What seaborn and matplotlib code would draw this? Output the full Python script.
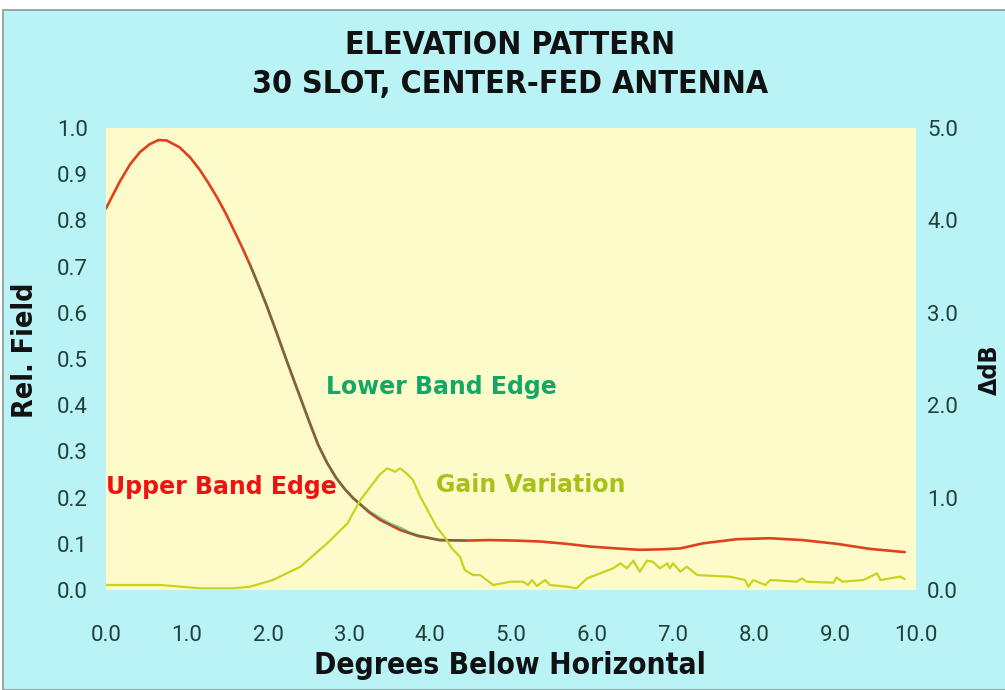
import numpy as np
import matplotlib
matplotlib.use("Agg")
import matplotlib.pyplot as plt
from matplotlib.patches import Rectangle
import seaborn as sns

# Elevation pattern, relative field (left axis)
upper_x = [0.00, 0.17, 0.30, 0.42, 0.54, 0.65, 0.75, 0.91, 1.04, 1.16, 1.26, 1.37, 1.47,
           1.57, 1.68, 1.78, 1.88, 1.98, 2.09, 2.19, 2.29, 2.40, 2.51, 2.62, 2.73, 2.84,
           2.95, 3.05, 3.25, 3.38, 3.63, 3.85, 4.12, 4.45, 4.74, 5.05, 5.36, 5.68, 5.98,
           6.30, 6.59, 6.85, 7.09, 7.37, 7.79, 8.20, 8.60, 9.02, 9.43, 9.86]
upper_y = [0.826, 0.884, 0.922, 0.948, 0.965, 0.974, 0.973, 0.958, 0.936, 0.909, 0.882,
           0.850, 0.818, 0.782, 0.742, 0.703, 0.661, 0.617, 0.565, 0.516, 0.468, 0.416,
           0.364, 0.314, 0.275, 0.243, 0.218, 0.199, 0.168, 0.152, 0.130, 0.117, 0.108,
           0.107, 0.108, 0.107, 0.105, 0.100, 0.094, 0.090, 0.087, 0.088, 0.090, 0.101,
           0.110, 0.112, 0.108, 0.100, 0.089, 0.082]

lower_x = [1.78, 1.88, 1.98, 2.09, 2.19, 2.29, 2.40, 2.51, 2.62, 2.73, 2.84, 2.95, 3.05,
           3.25, 3.38, 3.50, 3.63, 3.75, 3.85, 4.12, 4.45]
lower_y = [0.703, 0.661, 0.617, 0.565, 0.516, 0.468, 0.416, 0.364, 0.314, 0.275, 0.243,
           0.218, 0.199, 0.170, 0.156, 0.144, 0.135, 0.124, 0.118, 0.108, 0.107]

# Gain variation in dB (right axis)
gain_x = [0.00, 0.67, 0.83, 1.16, 1.57, 1.78, 2.06, 2.40, 2.73, 2.98, 3.14, 3.38, 3.47,
          3.57, 3.63, 3.71, 3.79, 3.88, 4.08, 4.20, 4.27, 4.37, 4.43, 4.53, 4.62, 4.78,
          5.00, 5.15, 5.21, 5.26, 5.32, 5.42, 5.48, 5.69, 5.81, 5.94, 6.10, 6.26, 6.35,
          6.43, 6.51, 6.59, 6.68, 6.75, 6.84, 6.93, 6.96, 7.00, 7.09, 7.17, 7.30, 7.70,
          7.89, 7.93, 7.99, 8.14, 8.20, 8.53, 8.59, 8.65, 8.98, 9.02, 9.09, 9.35, 9.52,
          9.56, 9.80, 9.86]
gain_y = [0.054, 0.054, 0.043, 0.018, 0.018, 0.036, 0.108, 0.252, 0.505, 0.720, 0.974,
          1.250, 1.317, 1.280, 1.317, 1.263, 1.190, 1.010, 0.685, 0.550, 0.450, 0.360,
          0.216, 0.162, 0.162, 0.054, 0.090, 0.090, 0.054, 0.108, 0.043, 0.108, 0.054,
          0.036, 0.018, 0.126, 0.180, 0.234, 0.289, 0.234, 0.317, 0.198, 0.317, 0.306,
          0.234, 0.289, 0.234, 0.289, 0.198, 0.252, 0.162, 0.144, 0.108, 0.036, 0.108,
          0.054, 0.108, 0.090, 0.126, 0.090, 0.079, 0.137, 0.090, 0.108, 0.180, 0.108,
          0.144, 0.119]

field_ticks = np.round(np.arange(0, 1.01, 0.1), 1)
db_ticks = np.arange(0, 5.01, 1.0)
deg_ticks = np.arange(0, 10.01, 1.0)

sns.set_theme(style="white")
plt.rcParams["font.family"] = ["DejaVu Sans"]
tick_font = dict(family=["Roboto", "DejaVu Sans"], fontweight="normal", fontsize=16)
head_font = dict(family=["DejaVu Sans"], fontweight="bold", fontstretch="condensed")

W, H = 1005, 690
fig = plt.figure(figsize=(W / 100, H / 100), dpi=100)
fig.patch.set_facecolor("white")
fig.add_artist(Rectangle((3 / W, 0), 1, 1 - 10 / H, transform=fig.transFigure,
                         facecolor="#b9f3f6", edgecolor="#8a9a9a", lw=1.2, zorder=-10))

ax = fig.add_axes([106 / W, 1 - 590 / H, (916 - 106) / W, (590 - 128) / H])
ax.set_facecolor("#fefbcb")
for s in ax.spines.values():
    s.set_visible(False)

tick_color = "#20403a"
sns.lineplot(x=upper_x, y=upper_y, ax=ax, color="#e0401c", lw=1.9,
             estimator=None, sort=False, zorder=3)
sns.lineplot(x=lower_x, y=lower_y, ax=ax, color="#1f8a5a", lw=1.9, alpha=0.5,
             estimator=None, sort=False, zorder=4)

ax.set_xlim(0, 10)
ax.set_ylim(0, 1.0)
ax.set_xticks(deg_ticks)
ax.set_xticklabels([f"{v:.1f}" for v in deg_ticks], color=tick_color, **tick_font)
ax.set_yticks(field_ticks)
ax.set_yticklabels([f"{v:.1f}" for v in field_ticks], color=tick_color, **tick_font)
ax.tick_params(axis="both", length=0)
ax.tick_params(axis="x", pad=25)
ax.tick_params(axis="y", pad=13)
ax.set_xlabel("")
ax.set_ylabel("")

ax2 = ax.twinx()
for s in ax2.spines.values():
    s.set_visible(False)
sns.lineplot(x=gain_x, y=gain_y, ax=ax2, color="#c4d61c", lw=1.6,
             estimator=None, sort=False, zorder=2)
ax2.set_ylim(0, 5.0)
ax2.set_yticks(db_ticks)
ax2.set_yticklabels([f"{v:.1f}" for v in db_ticks], color=tick_color, **tick_font)
ax2.tick_params(axis="y", length=0, pad=8)
ax2.set_ylabel("")
ax2.grid(False)
ax.grid(False)

# Series labels
ax.text(0.0, 0.222, "Upper Band Edge", color="#ee1212", fontsize=17,
        fontweight="bold", ha="left", va="center", zorder=5)
ax.text(2.71, 0.44, "Lower Band Edge", color="#14a866", fontsize=17,
        fontweight="bold", ha="left", va="center", zorder=5)
ax.text(4.08, 0.227, "Gain Variation", color="#a6c21a", fontsize=17,
        fontweight="bold", ha="left", va="center", zorder=5)

# Titles and axis labels
fig.text(510 / W, 1 - 45 / H, "ELEVATION PATTERN", fontsize=23, ha="center",
         va="center", color="#111111", **head_font)
fig.text(510 / W, 1 - 85 / H, "30 SLOT, CENTER-FED ANTENNA", fontsize=23,
         ha="center", va="center", color="#111111", **head_font)
fig.text(510 / W, 1 - 665 / H, "Degrees Below Horizontal", fontsize=21.5,
         ha="center", va="center", color="#111111", **head_font)
fig.text(25 / W, 1 - 350 / H, "Rel. Field", fontsize=20.5, ha="center", va="center",
         rotation=90, color="#111111", **head_font)
fig.text(990 / W, 1 - 370 / H, "ΔdB", fontsize=18, ha="center", va="center",
         rotation=90, color="#111111", **head_font)

fig.savefig("out.png", dpi=100, facecolor=fig.get_facecolor())
